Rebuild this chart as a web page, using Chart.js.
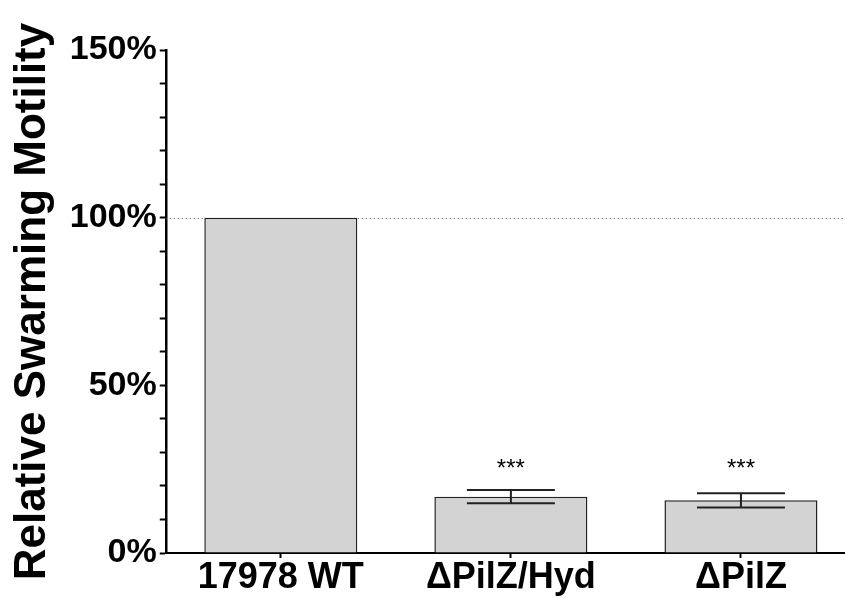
<!DOCTYPE html>
<html>
<head>
<meta charset="utf-8">
<script src="https://cdn.jsdelivr.net/npm/chart.js@4/dist/chart.umd.min.js"></script>
<style>
    html, body { margin: 0; padding: 0; overflow: hidden; background: #fff; }
    #wrap { width: 856px; height: 598px; }
</style>
</head>
<body>
<div id="wrap"><canvas id="mainChart" width="856" height="598"></canvas></div>
<script>
// Data
const categories = ['17978 WT', '\u0394PilZ/Hyd', '\u0394PilZ'];
const values = [100, 16.8, 15.7];
const errors = [0, 2.0, 2.1];
const sigLabels = ['', '***', '***'];
const sigLevel = 26.5;
const refLine = 100;
const yTicks = [0, 50, 100, 150];

const FONT = "'Liberation Sans', Arial, sans-serif";

// Extra drawing: dotted 100% line, error bars, significance stars
const extras = {
    id: 'extras',
    beforeDatasetsDraw(chart) {
        const { ctx, chartArea, scales: { y } } = chart;
        const yy = Math.round(y.getPixelForValue(refLine)) + 0.5;
        ctx.save();
        ctx.setLineDash([1, 3]);
        ctx.strokeStyle = '#555';
        ctx.lineWidth = 1;
        ctx.beginPath();
        ctx.moveTo(chartArea.left, yy);
        ctx.lineTo(chartArea.right, yy);
        ctx.stroke();
        ctx.restore();
    },
    afterDatasetsDraw(chart) {
        const { ctx, scales: { y } } = chart;
        const meta = chart.getDatasetMeta(0);
        ctx.save();
        ctx.strokeStyle = '#222';
        ctx.lineWidth = 2;
        meta.data.forEach((bar, i) => {
            const x = bar.x;
            if (errors[i]) {
                const hi = y.getPixelForValue(values[i] + errors[i]);
                const lo = y.getPixelForValue(values[i] - errors[i]);
                const half = bar.width * 0.575 / 2;
                ctx.beginPath();
                ctx.moveTo(x, hi); ctx.lineTo(x, lo);
                ctx.moveTo(x - half, hi); ctx.lineTo(x + half, hi);
                ctx.moveTo(x - half, lo); ctx.lineTo(x + half, lo);
                ctx.stroke();
            }
            if (sigLabels[i]) {
                ctx.fillStyle = '#000';
                ctx.font = '24px ' + FONT;
                ctx.textAlign = 'center';
                ctx.textBaseline = 'middle';
                ctx.fillText(sigLabels[i], x, y.getPixelForValue(sigLevel) + 5);
            }
        });
        ctx.restore();
    }
};

function initChart() {
    const ctx = document.getElementById('mainChart').getContext('2d');
    new Chart(ctx, {
        type: 'bar',
        data: {
            labels: categories,
            datasets: [{
                data: values,
                backgroundColor: '#d3d3d3',
                borderColor: '#222',
                borderWidth: 1.5,
                barPercentage: 0.665,
                categoryPercentage: 1
            }]
        },
        options: {
            responsive: false,
            animation: false,
            layout: { padding: { top: 50, left: 6, right: 0, bottom: 0 } },
            plugins: {
                legend: { display: false },
                tooltip: { enabled: false }
            },
            scales: {
                x: {
                    grid: { offset: false, drawOnChartArea: false, tickLength: 5, tickColor: '#000', tickWidth: 2 },
                    border: { color: '#000', width: 2 },
                    ticks: {
                        color: '#000',
                        padding: 2,
                        font: { family: FONT, size: 36, weight: 'bold', lineHeight: 1 }
                    }
                },
                y: {
                    min: 0,
                    max: 150,
                    grid: { drawOnChartArea: false, tickLength: 6, tickColor: '#000', tickWidth: 2 },
                    border: { color: '#000', width: 2.5 },
                    ticks: {
                        stepSize: 10,
                        autoSkip: false,
                        color: '#000',
                        padding: 3,
                        font: { family: FONT, size: 34, weight: 'bold' },
                        callback: v => yTicks.includes(v) ? v + '%' : ''
                    },
                    title: {
                        display: true,
                        text: 'Relative Swarming Motility',
                        color: '#000',
                        padding: { top: 0, bottom: 8 },
                        font: { family: FONT, size: 44, weight: 'bold' }
                    }
                }
            }
        },
        plugins: [extras]
    });
}

initChart();
</script>
</body>
</html>
